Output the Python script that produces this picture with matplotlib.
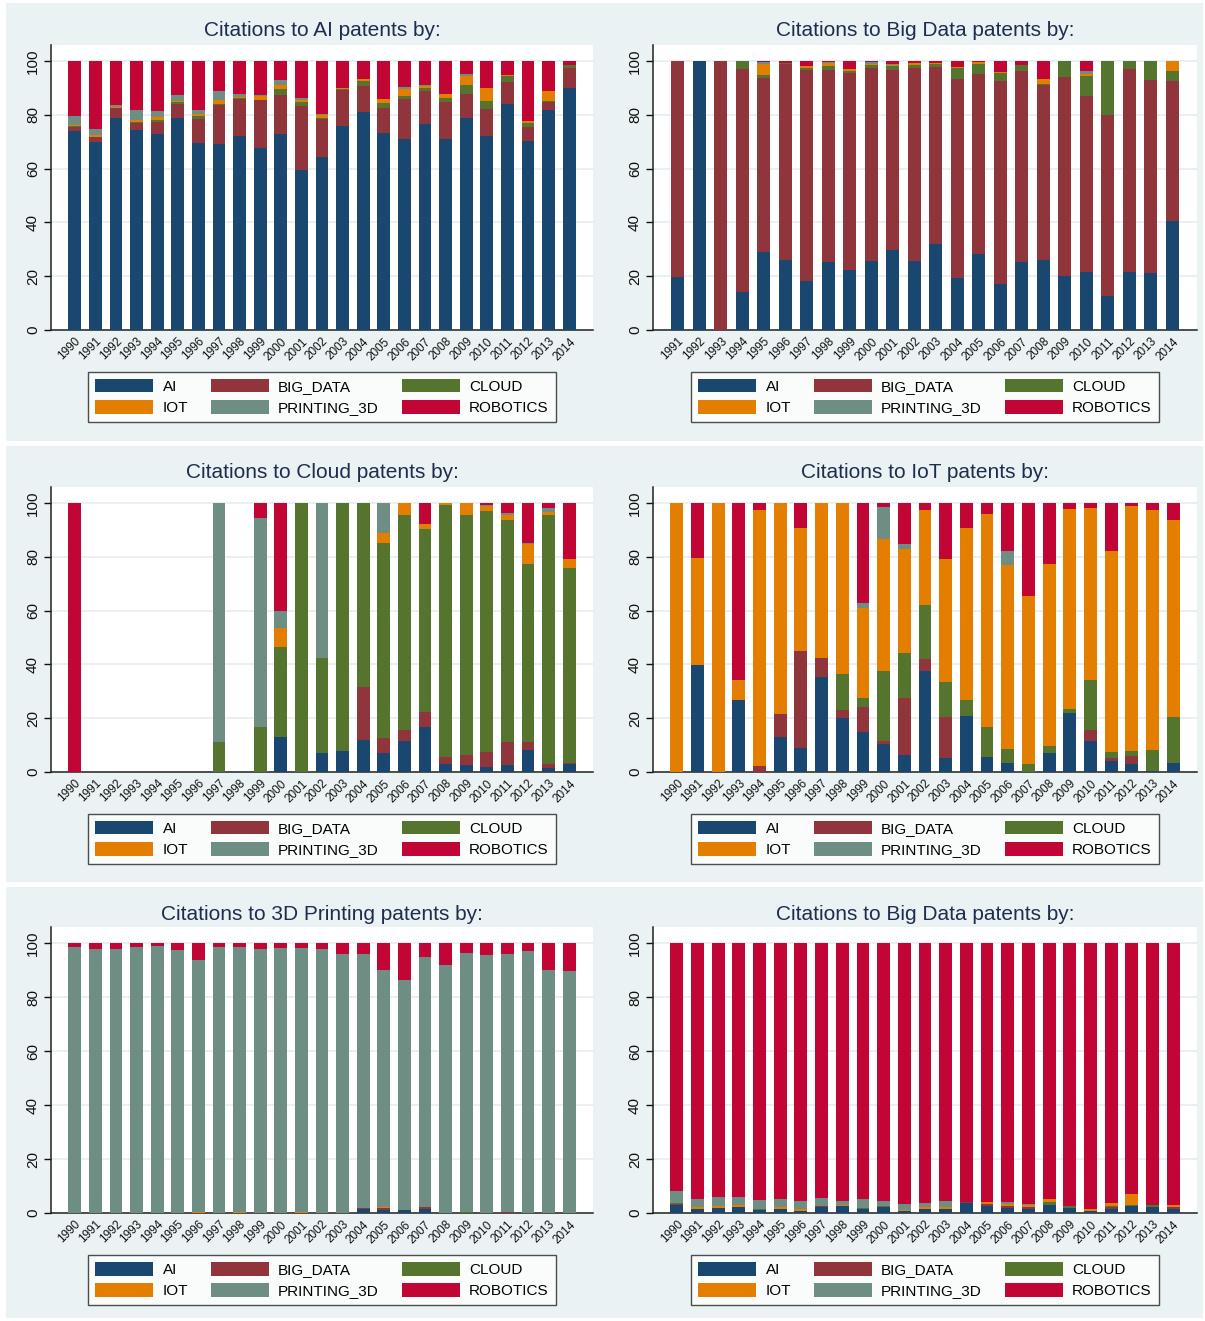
import matplotlib
matplotlib.use("Agg")
import matplotlib.pyplot as plt
from matplotlib.patches import Patch, Rectangle

plt.rcParams['font.family'] = ['Liberation Sans', 'DejaVu Sans']

series_names = ["AI", "BIG_DATA", "CLOUD", "IOT", "PRINTING_3D", "ROBOTICS"]
series_colors = ["#1A476F", "#90353B", "#55752F", "#E37E00", "#6E8E84", "#C10534"]

years_full = [str(y) for y in range(1990, 2015)]
years_bd = [str(y) for y in range(1991, 2015)]

# --- Citations to AI patents ---
ai_ai = [74.0, 70.0, 78.9, 74.5, 72.9, 78.9, 69.5, 69.1, 72.2, 67.8, 72.9, 59.6, 64.3,
         76.0, 81.2, 73.2, 71.0, 76.7, 71.0, 78.9, 72.2, 84.1, 70.3, 81.9, 90.1]
ai_bd = [1.6, 1.6, 3.7, 2.6, 4.5, 5.2, 8.9, 14.4, 13.7, 17.8, 14.5, 23.8, 14.1,
         13.3, 9.5, 9.5, 14.9, 12.1, 13.9, 8.7, 10.0, 8.1, 5.2, 3.0, 7.3]
ai_cl = [0.3, 0.1, 0.0, 0.2, 0.7, 0.7, 1.2, 0.6, 0.3, 0.1, 2.2, 1.4, 0.4,
         0.4, 1.9, 1.8, 1.2, 1.3, 1.5, 3.5, 2.9, 2.3, 1.6, 0.2, 1.1]
ai_iot = [0.4, 0.8, 0.5, 0.8, 1.1, 0.3, 0.8, 1.4, 0.4, 1.5, 1.6, 0.7, 1.0,
          0.3, 0.6, 1.4, 2.5, 0.7, 1.5, 3.4, 4.9, 0.5, 0.7, 3.7, 0.0]
ai_3d = [3.3, 2.2, 0.5, 3.7, 2.2, 2.3, 1.5, 3.3, 1.3, 0.3, 1.9, 0.7, 0.5,
         0.0, 0.2, 0.0, 0.7, 0.4, 0.0, 0.8, 0.0, 0.0, 0.0, 0.0, 0.0]
ai_rob = [20.4, 25.3, 16.4, 18.2, 18.6, 12.6, 18.1, 11.2, 12.1, 12.5, 6.9, 13.8, 19.7,
          10.0, 6.6, 14.1, 9.7, 8.8, 12.1, 4.7, 10.0, 5.0, 22.2, 11.2, 1.5]

# --- Citations to Big Data patents (1991-2014) ---
bd_ai = [19.7, 100.0, 0.0, 14.1, 29.1, 26.0, 18.2, 25.3, 22.3, 25.7, 29.7, 25.7,
         32.1, 19.3, 28.4, 17.1, 25.3, 26.0, 20.1, 21.6, 12.6, 21.6, 21.2, 40.5]
bd_bd = [80.3, 0.0, 100.0, 82.9, 64.6, 72.9, 78.5, 71.4, 73.2, 71.7, 67.0, 71.7,
         65.7, 74.0, 66.9, 75.5, 71.0, 65.1, 74.0, 65.5, 67.3, 75.4, 71.7, 52.1]
bd_cl = [0.0, 0.0, 0.0, 3.0, 1.1, 0.4, 0.9, 1.6, 0.8, 1.0, 1.6, 1.1,
         1.2, 4.1, 3.6, 2.9, 2.2, 0.5, 5.9, 7.3, 20.1, 3.0, 7.1, 3.7]
bd_iot = [0.0, 0.0, 0.0, 0.0, 4.3, 0.0, 0.5, 1.1, 0.6, 0.7, 0.4, 0.8,
          0.4, 0.4, 0.7, 0.4, 0.0, 1.7, 0.0, 0.9, 0.0, 0.0, 0.0, 3.7]
bd_3d = [0.0, 0.0, 0.0, 0.0, 0.5, 0.0, 0.0, 0.2, 0.1, 0.5, 0.4, 0.0,
         0.0, 0.0, 0.0, 0.0, 0.0, 0.0, 0.0, 1.0, 0.0, 0.0, 0.0, 0.0]
bd_rob = [0.0, 0.0, 0.0, 0.0, 0.4, 0.7, 1.9, 0.4, 3.0, 0.4, 0.9, 0.7,
          0.6, 2.2, 0.4, 4.1, 1.5, 6.7, 0.0, 3.7, 0.0, 0.0, 0.0, 0.0]

# --- Citations to Cloud patents ---
cl_ai = [0, 0, 0, 0, 0, 0, 0, 0, 0, 0, 13.2, 0, 6.9,
         7.7, 11.9, 7.2, 11.4, 16.6, 2.8, 2.5, 1.7, 2.5, 8.0, 1.4, 3.0]
cl_bd = [0, 0, 0, 0, 0, 0, 0, 0, 0, 0, 0, 0, 0,
         0, 19.9, 5.4, 4.2, 5.9, 2.6, 3.7, 5.6, 8.5, 3.0, 1.4, 0.3]
cl_cl = [0, 0, 0, 0, 0, 0, 0, 11.0, 0, 16.6, 33.4, 100.0, 35.6,
         92.3, 68.2, 72.6, 80.1, 68.0, 93.9, 89.3, 89.7, 82.7, 66.4, 92.7, 72.6]
cl_iot = [0, 0, 0, 0, 0, 0, 0, 0, 0, 0, 6.8, 0, 0,
          0, 0, 3.8, 4.3, 1.7, 0.7, 4.5, 1.8, 1.8, 7.4, 1.2, 3.3]
cl_3d = [0, 0, 0, 0, 0, 0, 0, 89.0, 0, 77.7, 6.4, 0, 57.5,
         0, 0, 11.0, 0, 0, 0, 0, 0.4, 0.8, 0.4, 1.4, 0]
cl_rob = [100.0, 0, 0, 0, 0, 0, 0, 0, 0, 5.7, 40.2, 0, 0,
          0, 0, 0, 0, 7.8, 0, 0, 0.8, 3.7, 14.8, 1.9, 20.8]

# --- Citations to IoT patents ---
iot_ai = [0, 39.9, 0, 26.6, 0, 12.9, 8.9, 35.5, 19.9, 14.7, 10.3, 6.2, 37.7,
          5.2, 21.0, 5.4, 3.2, 0, 6.9, 21.8, 11.7, 4.0, 3.0, 0.2, 3.5]
iot_bd = [0, 0, 0, 0, 2.2, 8.6, 36.2, 7.0, 3.3, 9.3, 1.4, 21.5, 4.5,
          15.1, 0, 0, 0, 0, 0, 0, 3.8, 1.1, 2.8, 0, 0]
iot_cl = [0, 0, 0, 0, 0, 0, 0, 0, 13.4, 3.7, 26.0, 16.7, 20.0,
          13.0, 5.9, 11.5, 5.2, 2.8, 2.6, 1.8, 18.9, 2.2, 1.9, 7.8, 16.8]
iot_iot = [100.0, 39.8, 100.0, 7.8, 95.2, 78.5, 45.6, 57.5, 63.4, 33.4, 49.0, 38.5, 35.2,
           45.9, 63.8, 79.0, 68.7, 62.7, 67.9, 74.2, 63.7, 74.9, 91.2, 89.4, 73.4]
iot_3d = [0, 0, 0, 0, 0, 0, 0, 0, 0, 1.8, 11.8, 1.9, 0,
          0, 0, 0, 5.1, 0, 0, 0, 0, 0, 0, 0, 0]
iot_rob = [0, 20.3, 0, 65.6, 2.6, 0, 9.3, 0, 0, 37.1, 1.5, 15.2, 2.6,
           20.8, 9.3, 4.1, 17.8, 34.5, 22.6, 2.2, 1.9, 17.8, 1.1, 2.6, 6.3]

# --- Citations to 3D Printing patents ---
p3_ai = [0, 0, 0, 0, 0, 0, 0, 0, 0, 0, 0, 0, 0,
         0, 1.4, 1.1, 1.1, 1.4, 0, 0, 0, 0, 0, 0, 0]
p3_bd = [0, 0, 0, 0, 0, 0, 0, 0, 0, 0, 0, 0, 0,
         0, 0.6, 0.8, 0, 0.8, 0, 0, 0, 0.4, 0, 0, 0]
p3_cl = [0, 0, 0, 0, 0, 0, 0, 0, 0, 0, 0, 0, 0,
         0, 0, 0, 0, 0, 0, 0.3, 0, 0, 0, 0, 0]
p3_iot = [0, 0, 0, 0, 0, 0, 0.3, 0, 0.3, 0, 0, 0.4, 0,
          0, 0, 0.3, 0, 0, 0, 0, 0, 0, 0, 0, 0]
p3_3d = [98.6, 97.9, 97.9, 98.6, 99.0, 97.5, 93.5, 98.6, 98.3, 97.9, 98.3, 97.9, 97.9,
         96.0, 94.0, 87.9, 85.3, 92.7, 92.0, 96.1, 95.5, 95.6, 97.2, 90.1, 89.7]
p3_rob = [1.4, 2.1, 2.1, 1.4, 1.0, 2.5, 6.2, 1.4, 1.4, 2.1, 1.7, 1.7, 2.1,
          4.0, 4.0, 9.9, 13.6, 5.1, 8.0, 3.6, 4.5, 4.0, 2.8, 9.9, 10.3]

# --- Citations to Robotics patents (panel titled "Big Data") ---
rb_ai = [3.0, 1.4, 1.9, 2.1, 1.2, 1.6, 0.9, 2.3, 2.6, 1.5, 2.1, 0.9, 1.5,
         1.5, 3.7, 2.7, 2.0, 1.6, 3.0, 2.0, 0.7, 1.5, 2.7, 2.3, 1.6]
rb_bd = [0.4, 0, 0, 0, 0, 0, 0, 0.4, 0, 0, 0, 0, 0,
         0, 0.5, 0.5, 0.7, 0.5, 0, 0, 0, 0.6, 0, 0, 0.5]
rb_cl = [0.2, 0, 0, 0, 0.4, 0, 0, 0, 0, 0.5, 0.6, 0, 0,
         0, 0, 0, 0, 0, 1.1, 0.6, 0, 0.6, 0.4, 0.5, 0]
rb_iot = [0, 0.7, 0.8, 0.7, 0, 0.6, 0.6, 0, 0.4, 0, 0, 0.3, 0.6,
          0.6, 0, 0.8, 0.8, 0.7, 1.1, 0, 0.8, 0.9, 3.9, 0, 0.7]
rb_3d = [4.6, 3.1, 3.2, 3.1, 3.2, 3.0, 2.9, 3.0, 1.4, 3.2, 1.7, 2.1, 1.6,
         2.3, 0, 0, 0.6, 0.5, 0, 0, 0, 0, 0, 0, 0]
rb_rob = [91.8, 94.8, 94.1, 94.1, 95.2, 94.8, 95.6, 94.3, 95.6, 94.8, 95.6, 96.7, 96.3,
          95.6, 95.8, 96.0, 95.9, 96.7, 94.8, 97.4, 98.5, 96.4, 93.0, 97.2, 97.2]

panels = [
    ("Citations to AI patents by:", years_full, [ai_ai, ai_bd, ai_cl, ai_iot, ai_3d, ai_rob]),
    ("Citations to Big Data patents by:", years_bd, [bd_ai, bd_bd, bd_cl, bd_iot, bd_3d, bd_rob]),
    ("Citations to Cloud patents by:", years_full, [cl_ai, cl_bd, cl_cl, cl_iot, cl_3d, cl_rob]),
    ("Citations to IoT patents by:", years_full, [iot_ai, iot_bd, iot_cl, iot_iot, iot_3d, iot_rob]),
    ("Citations to 3D Printing patents by:", years_full, [p3_ai, p3_bd, p3_cl, p3_iot, p3_3d, p3_rob]),
    ("Citations to Big Data patents by:", years_full, [rb_ai, rb_bd, rb_cl, rb_iot, rb_3d, rb_rob]),
]

W, H = 1205, 1321
fig = plt.figure(figsize=(W / 100, H / 100), dpi=100)
fig.patch.set_facecolor("white")

band_color = "#EAF2F3"
title_color = "#1E2D4E"

# background bands, one per row of the combined graph (pixel coords)
for (y0, y1) in [(3, 441), (446, 882), (887, 1318)]:
    fig.patches.append(Rectangle((6 / W, 1 - y1 / H), (1203 - 6) / W, (y1 - y0) / H,
                                 transform=fig.transFigure, facecolor=band_color,
                                 edgecolor="none", zorder=-10))

# axes rectangles in pixels: (left, right, top, bottom)
col_x = [(51, 593), (653, 1197)]
row_y = [(45, 330), (487, 772), (927, 1213)]
title_y = [31, 473, 914]

for idx, (title, years, values) in enumerate(panels):
    r, c = divmod(idx, 2)
    x0, x1 = col_x[c]
    t, b = row_y[r]
    ax = fig.add_axes([x0 / W, 1 - b / H, (x1 - x0) / W, (b - t) / H])
    ax.set_facecolor("white")
    n = len(years)
    pos = list(range(n))
    bottom = [0.0] * n
    for vals, col in zip(values, series_colors):
        ax.bar(pos, vals, bottom=bottom, width=0.62, color=col, linewidth=0, zorder=3)
        bottom = [bb + v for bb, v in zip(bottom, vals)]
    ax.set_xlim(-1.15, n - 1 + 1.15)
    ax.set_ylim(0, 106)
    ax.set_yticks([0, 20, 40, 60, 80, 100])
    ax.set_yticklabels(["0", "20", "40", "60", "80", "100"], rotation=90, va="center")
    ax.set_xticks(pos)
    ax.set_xticklabels(years, rotation=45, ha="right", rotation_mode="anchor", fontsize=8.5)
    ax.tick_params(axis="x", length=0, pad=4, colors="#111111")
    ax.tick_params(axis="y", length=5, width=1, labelsize=11, pad=3, colors="#111111")
    ax.yaxis.grid(True, color="#E6EEF0", linewidth=1.2, zorder=0)
    ax.set_axisbelow(True)
    for side in ("top", "right"):
        ax.spines[side].set_visible(False)
    for side in ("left", "bottom"):
        ax.spines[side].set_color("#222222")
        ax.spines[side].set_linewidth(1.1)

    fig.text((x0 + x1) / 2 / W, 1 - title_y[r] / H, title, ha="center", va="center",
             fontsize=15, color=title_color)

    handles = [Patch(facecolor=col, edgecolor="none", label=name)
               for name, col in zip(series_names, series_colors)]
    # order so that rows read AI, BIG_DATA, CLOUD / IOT, PRINTING_3D, ROBOTICS
    order = [0, 3, 1, 4, 2, 5]
    leg = ax.legend([handles[i] for i in order], [series_names[i] for i in order],
                    ncol=3, loc="upper center", bbox_to_anchor=(0.5, -0.147),
                    frameon=True, fancybox=False, fontsize=11,
                    handlelength=3.8, handleheight=1.0, handletextpad=0.6,
                    columnspacing=1.5, labelspacing=0.4, borderpad=0.45,
                    borderaxespad=0.0)
    leg.get_frame().set_edgecolor("#222222")
    leg.get_frame().set_linewidth(1.0)
    leg.get_frame().set_facecolor("white")

fig.savefig("out.png", dpi=100, facecolor="white")
